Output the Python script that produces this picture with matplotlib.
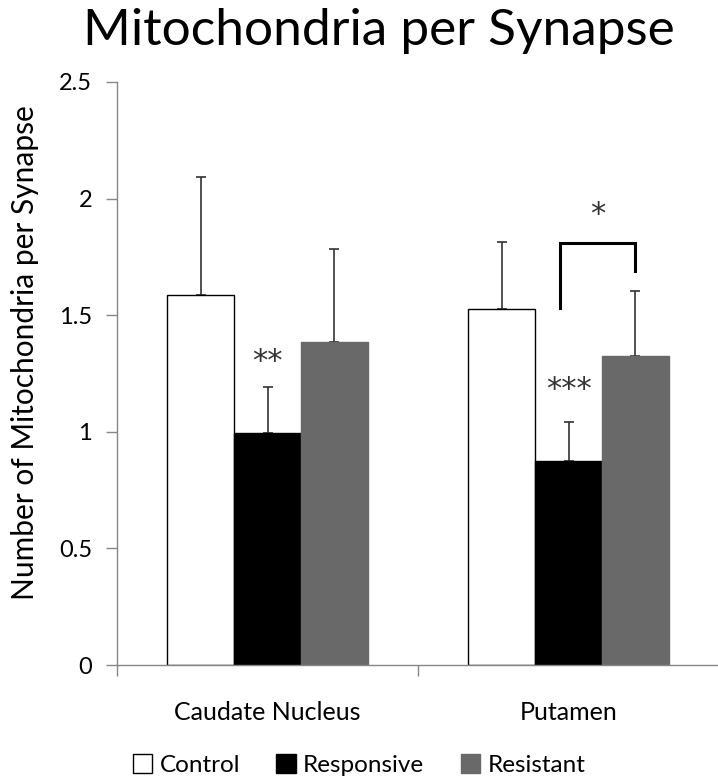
import matplotlib
matplotlib.use("Agg")
import matplotlib.pyplot as plt
import numpy as np

categories = ["Caudate Nucleus", "Putamen"]
series = ["Control", "Responsive", "Resistant"]
means = {
    "Control": [1.585, 1.525],
    "Responsive": [0.996, 0.875],
    "Resistant": [1.386, 1.326],
}
errors = {
    "Control": [0.509, 0.289],
    "Responsive": [0.197, 0.166],
    "Resistant": [0.399, 0.279],
}
colors = {"Control": "white", "Responsive": "black", "Resistant": "#696969"}
yticks = [0, 0.5, 1, 1.5, 2, 2.5]
ytick_labels = ["0", "0.5", "1", "1.5", "2", "2.5"]
stars = [("**", 0, "Responsive", 1.30), ("***", 1, "Responsive", 1.18)]
bracket = {"from": (1, "Responsive"), "to": (1, "Resistant"),
           "left_bottom": 1.53, "right_bottom": 1.69, "top": 1.808, "label": "*"}

plt.rcParams['font.family'] = ['Lato', 'DejaVu Sans']

fig = plt.figure(figsize=(7.18, 7.79), dpi=100)
ax = fig.add_axes([117/718, 114/779, 602/718, 583/779])

width = 0.222
x = np.arange(len(categories))
offsets = {s: (i - 1) * width for i, s in enumerate(series)}
handles = []
for s in series:
    b = ax.bar(x + offsets[s], means[s], width,
               color=colors[s],
               edgecolor="black" if s == "Control" else colors[s],
               linewidth=1.0, zorder=2, label=s)
    handles.append(b)
    ax.errorbar(x + offsets[s], means[s],
                yerr=[np.zeros(len(categories)), errors[s]],
                fmt="none", ecolor="#333333", elinewidth=1.2,
                capsize=3.5, capthick=1.2, zorder=1)

for txt, ci, s, yv in stars:
    ax.text(ci + offsets[s], yv, txt, ha="center", va="center",
            fontsize=22, color="#333333", family="DejaVu Sans")

xl = bracket["from"][0] + offsets[bracket["from"][1]] - 0.028
xr = bracket["to"][0] + offsets[bracket["to"][1]]
ax.plot([xl, xl, xr, xr],
        [bracket["left_bottom"], bracket["top"], bracket["top"], bracket["right_bottom"]],
        color="black", lw=2.2, solid_joinstyle="miter", zorder=3)
ax.text((xl + xr) / 2, bracket["top"] + 0.06, bracket["label"], ha="center",
        va="bottom", fontsize=22, color="#333333", family="DejaVu Sans")

ax.set_xlim(-0.5, 1.5)
ax.set_ylim(0, 2.5)
ax.set_yticks(yticks)
ax.set_yticklabels(ytick_labels, fontsize=17)
ax.set_xticks([-0.5, 0.5, 1.5])
ax.set_xticklabels([])
ax.set_xticks(x, minor=True)
ax.set_xticklabels(categories, minor=True, fontsize=18)
ax.tick_params(axis="x", which="minor", length=0, pad=26)
ax.tick_params(axis="x", which="major", length=8, direction="out", color="#868686", width=1)
ax.tick_params(axis="y", length=8, direction="out", color="#868686", width=1, pad=10)
for side in ["top", "right"]:
    ax.spines[side].set_visible(False)
for side in ["left", "bottom"]:
    ax.spines[side].set_color("#868686")
    ax.spines[side].set_linewidth(1)

ax.set_ylabel("Number of Mitochondria per Synapse", fontsize=21.5)
ax.yaxis.set_label_coords(-0.13, 0.535)
fig.suptitle("Mitochondria per Synapse", fontsize=37, y=0.99, x=0.527)

fig.legend(handles=handles, labels=series, loc="center", bbox_to_anchor=(0.5, 1 - 765/779),
           ncol=3, frameon=False, fontsize=17.5, handlelength=0.8, handleheight=0.8,
           handletextpad=0.3, columnspacing=1.5)

fig.savefig("out.png", dpi=100)
